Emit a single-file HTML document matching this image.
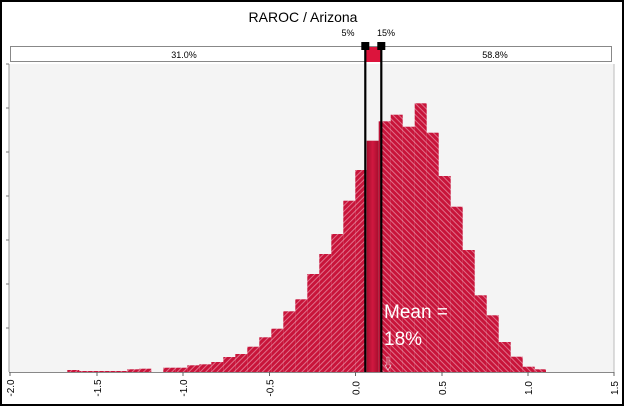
<!DOCTYPE html>
<html><head><meta charset="utf-8"><style>
html,body{margin:0;padding:0;background:#fff}
svg{display:block}
text{font-family:"Liberation Sans",sans-serif}
</style></head><body>
<svg width="624" height="406" viewBox="0 0 624 406" xmlns="http://www.w3.org/2000/svg">
<defs>
<pattern id="hl" width="4" height="4" patternUnits="userSpaceOnUse" patternTransform="rotate(45)">
<rect width="4" height="4" fill="#c8143a"/><rect x="0" width="1" height="4" fill="#e0708a"/>
</pattern>
<pattern id="hr" width="4" height="4" patternUnits="userSpaceOnUse" patternTransform="rotate(-45)">
<rect width="4" height="4" fill="#c8143a"/><rect x="0" width="1" height="4" fill="#e0708a"/>
</pattern>
<linearGradient id="cg" x1="0" x2="1" y1="0" y2="0">
<stop offset="0" stop-color="#a50d2c"/><stop offset="0.5" stop-color="#d01840"/><stop offset="1" stop-color="#a50d2c"/>
</linearGradient>
</defs>
<rect x="1" y="1" width="622" height="404" fill="#fff" stroke="#000" stroke-width="2"/>
<text x="303" y="22" font-size="14" text-anchor="middle">RAROC / Arizona</text>
<rect x="9" y="64" width="605" height="308" fill="#f4f4f4"/>
<line x1="9" y1="64" x2="9" y2="372" stroke="#999"/>
<line x1="614" y1="64" x2="614" y2="372" stroke="#bbb"/>
<g stroke="#777">
<line x1="6" y1="64" x2="9" y2="64"/><line x1="6" y1="108" x2="9" y2="108"/><line x1="6" y1="152" x2="9" y2="152"/><line x1="6" y1="196" x2="9" y2="196"/><line x1="6" y1="240" x2="9" y2="240"/><line x1="6" y1="284" x2="9" y2="284"/><line x1="6" y1="328" x2="9" y2="328"/>
</g>
<!-- left bars -->
<g fill="url(#hl)">
<rect x="67.3" y="370" width="12" height="2.5"/>
<rect x="79.3" y="371" width="48" height="1.5"/>
<rect x="127.3" y="369.3" width="12" height="3.2"/>
<rect x="139.3" y="368.7" width="12" height="3.8"/>
<rect x="163.3" y="367.7" width="12" height="4.8"/>
<rect x="175.3" y="367.7" width="12" height="4.8"/>
<rect x="187.3" y="365.3" width="12" height="7.2"/>
<rect x="199.3" y="364.3" width="12" height="8.2"/>
<rect x="211.3" y="362" width="12" height="10.5"/>
<rect x="223.3" y="357" width="12" height="15.5"/>
<rect x="235.3" y="354" width="12" height="18.5"/>
<rect x="247.3" y="346.7" width="12" height="25.8"/>
<rect x="259.3" y="337.3" width="12" height="35.2"/>
<rect x="271.3" y="328.7" width="12" height="43.8"/>
<rect x="283.3" y="311.3" width="12" height="61.2"/>
<rect x="295.3" y="299.3" width="12" height="73.2"/>
<rect x="307.3" y="274" width="12" height="98.5"/>
<rect x="319.3" y="254" width="12" height="118.5"/>
<rect x="331.3" y="234" width="12" height="138.5"/>
<rect x="343.3" y="200.7" width="12" height="171.8"/>
<rect x="355.3" y="170" width="10" height="202.5"/>
</g>
<rect x="365.3" y="170" width="1.4" height="202.5" fill="url(#cg)"/>
<rect x="366.7" y="140.7" width="12" height="231.8" fill="url(#cg)"/>
<rect x="378.7" y="121.3" width="3" height="251.2" fill="url(#cg)"/>
<g fill="url(#hr)">
<rect x="381.5" y="121.3" width="9.2" height="251.2"/>
<rect x="390.7" y="114.7" width="12" height="257.8"/>
<rect x="402.7" y="126.7" width="12" height="245.8"/>
<rect x="414.7" y="103.3" width="12" height="269.2"/>
<rect x="426.7" y="132.7" width="12" height="239.8"/>
<rect x="438.7" y="176" width="12" height="196.5"/>
<rect x="450.7" y="206.7" width="12" height="165.8"/>
<rect x="462.7" y="250" width="12" height="122.5"/>
<rect x="474.7" y="295.3" width="12" height="77.2"/>
<rect x="486.7" y="315.3" width="12" height="57.2"/>
<rect x="498.7" y="342" width="12" height="30.5"/>
<rect x="510.7" y="356.7" width="12" height="15.8"/>
<rect x="522.7" y="366.7" width="12" height="5.8"/>
<rect x="534.7" y="369.3" width="11.3" height="3.2"/>
</g>
<line x1="9" y1="372.5" x2="614" y2="372.5" stroke="#888"/>
<g stroke="#666">
<line x1="10" y1="372" x2="10" y2="376"/><line x1="97" y1="372" x2="97" y2="376"/><line x1="183" y1="372" x2="183" y2="376"/><line x1="269.5" y1="372" x2="269.5" y2="376"/><line x1="355.5" y1="372" x2="355.5" y2="376"/><line x1="442" y1="372" x2="442" y2="376"/><line x1="528" y1="372" x2="528" y2="376"/><line x1="614" y1="372" x2="614" y2="376"/>
</g>
<g font-size="10" text-anchor="middle">
<text transform="translate(14,388) rotate(-90)">-2.0</text>
<text transform="translate(101,388) rotate(-90)">-1.5</text>
<text transform="translate(187,388) rotate(-90)">-1.0</text>
<text transform="translate(273.5,388) rotate(-90)">-0.5</text>
<text transform="translate(359.5,388) rotate(-90)">0.0</text>
<text transform="translate(446,388) rotate(-90)">0.5</text>
<text transform="translate(532,388) rotate(-90)">1.0</text>
<text transform="translate(618,388) rotate(-90)">1.5</text>
</g>
<!-- top band -->
<rect x="10.5" y="46.5" width="601" height="15" fill="#fff" stroke="#888"/>
<rect x="365" y="47" width="17" height="15" fill="#dc143c"/>
<text x="184" y="58" font-size="9" text-anchor="middle">31.0%</text>
<text x="495" y="58" font-size="9" text-anchor="middle">58.8%</text>
<text x="348" y="36" font-size="9" text-anchor="middle">5%</text>
<text x="386" y="36" font-size="9" text-anchor="middle">15%</text>
<line x1="365.3" y1="46" x2="365.3" y2="372" stroke="#000" stroke-width="2.2"/>
<line x1="381.3" y1="46" x2="381.3" y2="372" stroke="#000" stroke-width="2.2"/>
<rect x="361.3" y="42" width="8" height="8" fill="#000"/>
<rect x="377.3" y="42" width="8" height="8" fill="#000"/>
<text x="384" y="318" font-size="19" fill="#fff">Mean =</text>
<text x="384" y="345" font-size="19" fill="#fff">18%</text>
<path d="M387 357 v8 h-2 l3 5 l3 -5 h-2 v-8 z" fill="#c8143a" stroke="#eee" stroke-width="0.6"/>
</svg>
</body></html>
